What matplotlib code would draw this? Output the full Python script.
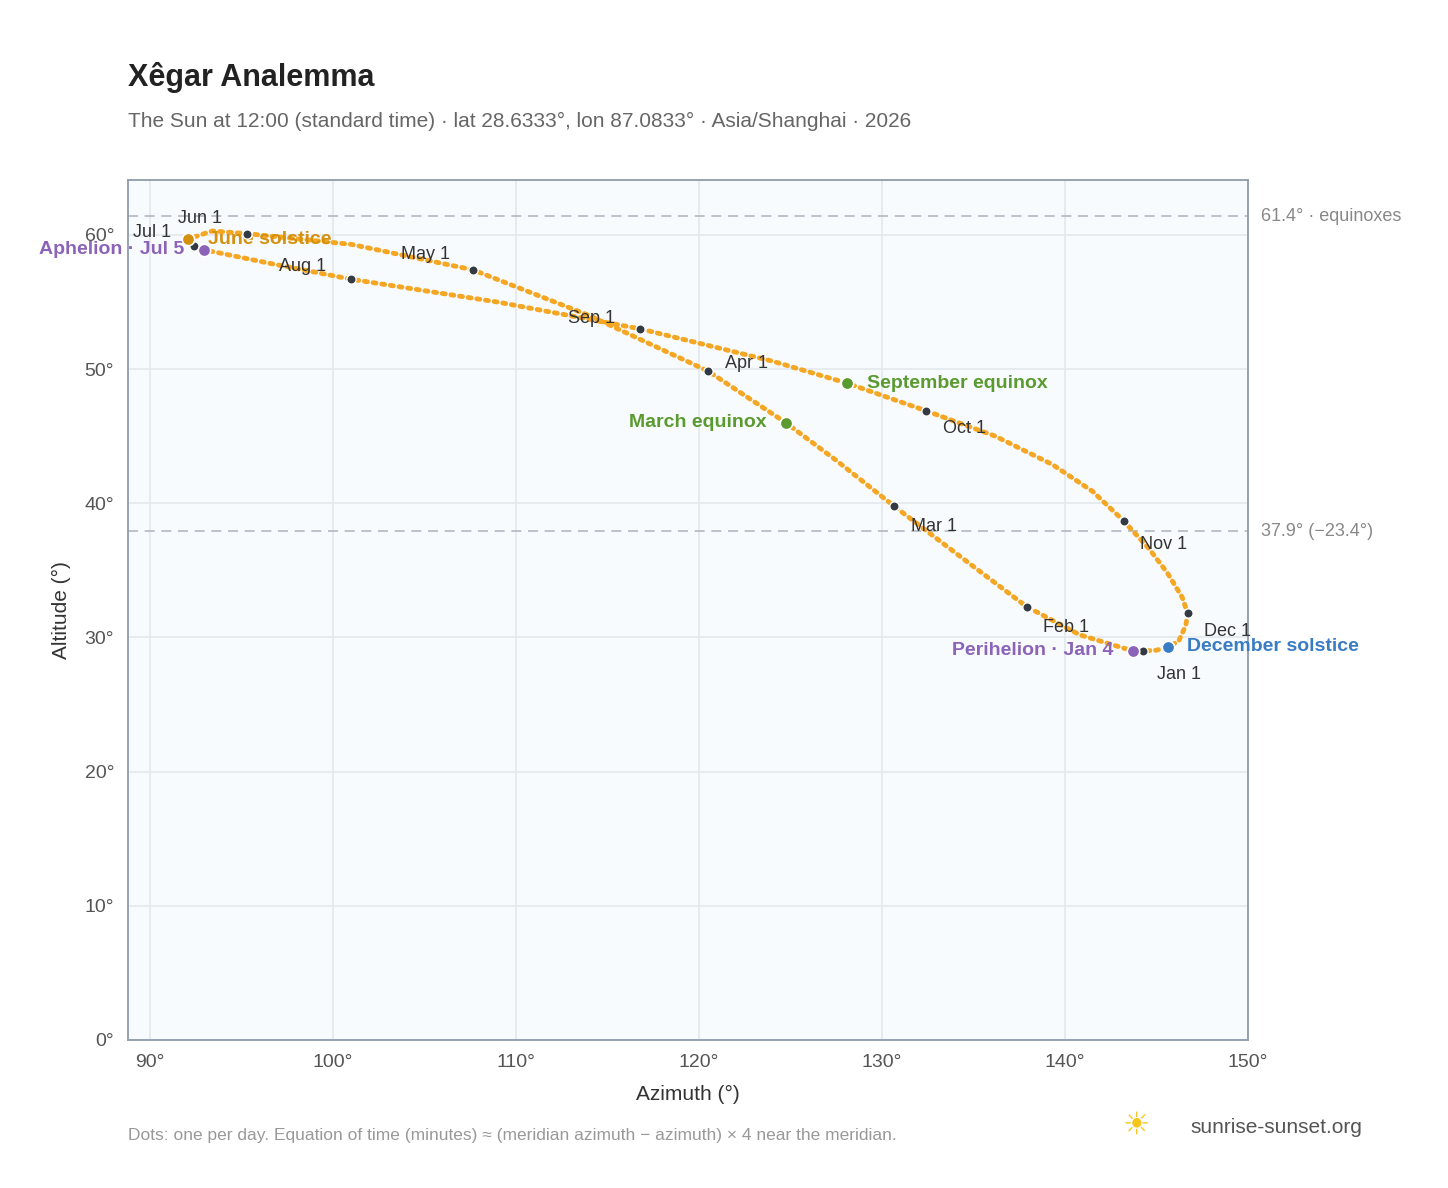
import matplotlib
matplotlib.use("Agg")
from matplotlib import pyplot as plt

plt.rcParams['font.family'] = ['Liberation Sans', 'DejaVu Sans']

# path of the sun at noon through the year
path_az = [144.3, 143.7, 140.8, 137.9, 134.5, 130.65, 127.5, 124.75, 120.5, 114.0, 107.65, 101.0,
           95.3, 93.4, 92.1, 92.4, 92.95, 96.5, 101.0, 109.0, 116.8, 124.0, 128.1, 132.4,
           136.2, 139.3, 141.5, 143.2, 144.6, 145.6, 146.4, 146.7, 146.6, 146.2, 145.6, 145.0, 144.3]
path_alt = [29.0, 29.0, 30.2, 32.3, 35.8, 39.8, 43.2, 46.0, 49.85, 54.0, 57.4, 59.3,
            60.1, 60.3, 59.7, 59.2, 58.9, 57.9, 56.7, 55.0, 53.0, 50.6, 48.95, 46.9,
            45.0, 42.9, 40.9, 38.7, 36.6, 34.8, 33.0, 31.8, 30.9, 29.7, 29.3, 29.05, 29.0]

months = ["Jan 1", "Feb 1", "Mar 1", "Apr 1", "May 1", "Jun 1", "Jul 1", "Aug 1", "Sep 1", "Oct 1", "Nov 1", "Dec 1"]
month_az = [144.26, 137.9, 130.65, 120.5, 107.65, 95.3, 92.4, 101.0, 116.8, 132.4, 143.2, 146.7]
month_alt = [29.0, 32.3, 39.8, 49.85, 57.4, 60.1, 59.2, 56.7, 53.0, 46.9, 38.7, 31.8]
month_off = [(10, -20), (12, -18), (12, -18), (12, 2), (-52, 8), (-50, 8), (-44, 6), (-52, 6), (-52, 4), (12, -16), (12, -20), (12, -16)]

events = ["March equinox", "September equinox", "June solstice", "December solstice", "Aphelion · Jul 5", "Perihelion · Jan 4"]
event_az = [124.75, 128.1, 92.1, 145.6, 92.95, 143.7]
event_alt = [46.0, 48.95, 59.7, 29.3, 58.9, 29.0]
event_col = ["#5a9a2f", "#5a9a2f", "#d4900f", "#3a7cc4", "#8b63b8", "#8b63b8"]
event_ha = ["right", "left", "left", "left", "right", "right"]

ref_alt = [61.4, 37.9]
ref_lab = ["61.4° · equinoxes", "37.9° (−23.4°)"]

fig = plt.figure(figsize=(14.48, 11.88), dpi=100)
ax = fig.add_axes([0.0884, 0.1246, 0.7735, 0.7239])
ax.set_facecolor("#f8fbfe")
ax.set_xlim(88.8, 150)
ax.set_ylim(0, 64.1)
ax.set_xticks(range(90, 151, 10))
ax.set_xticklabels([f"{v}°" for v in range(90, 151, 10)])
ax.set_yticks(range(0, 61, 10))
ax.set_yticklabels([f"{v}°" for v in range(0, 61, 10)])
ax.grid(color="#e3e8ee", lw=1.2)
ax.set_axisbelow(True)
ax.tick_params(length=0, labelsize=14, colors="#555", pad=10)
for s in ax.spines.values():
    s.set_color("#8f9bab")
    s.set_linewidth(1.3)
ax.set_xlabel("Azimuth (°)", fontsize=15, color="#333", labelpad=10)
ax.set_ylabel("Altitude (°)", fontsize=15, color="#333", labelpad=10)

for a, l in zip(ref_alt, ref_lab):
    ax.axhline(a, color="#b0b8c2", ls=(0, (6, 4)), lw=1.2)
    ax.text(150.7, a, l, va="center", fontsize=13, color="#888", clip_on=False)

ax.plot(path_az, path_alt, ls=(0, (0.6, 1.2)), lw=3.5, color="#f5a623", dash_capstyle="round")

ax.scatter(month_az, month_alt, s=45, color="#333a44", edgecolor="white", lw=1, zorder=4)
for n, x, y, o in zip(months, month_az, month_alt, month_off):
    ax.annotate(n, (x, y), xytext=o, textcoords="offset points", fontsize=13, color="#333", ha="left")

for n, x, y, c, ha in zip(events, event_az, event_alt, event_col, event_ha):
    ax.scatter([x], [y], s=80, color=c, edgecolor="white", lw=1.2, zorder=5)
    dx = 14 if ha == "left" else -14
    ax.annotate(n, (x, y), xytext=(dx, 0), textcoords="offset points", fontsize=14, color=c,
                fontweight="bold", ha=ha, va="center")

fig.text(0.0884, 0.928, "Xêgar Analemma", fontsize=22, fontweight="bold", color="#222")
fig.text(0.0884, 0.893, "The Sun at 12:00 (standard time) · lat 28.6333°, lon 87.0833° · Asia/Shanghai · 2026",
         fontsize=15, color="#666")
fig.text(0.0884, 0.040, "Dots: one per day. Equation of time (minutes) ≈ (meridian azimuth − azimuth) × 4 near the meridian.",
         fontsize=12.5, color="#999")
fig.text(0.822, 0.046, "sunrise-sunset.org", fontsize=15, color="#555")
fig.text(0.775, 0.046, "☀", fontsize=22, color="#f5c518", family="DejaVu Sans")

fig.savefig("out.png", dpi=100)
